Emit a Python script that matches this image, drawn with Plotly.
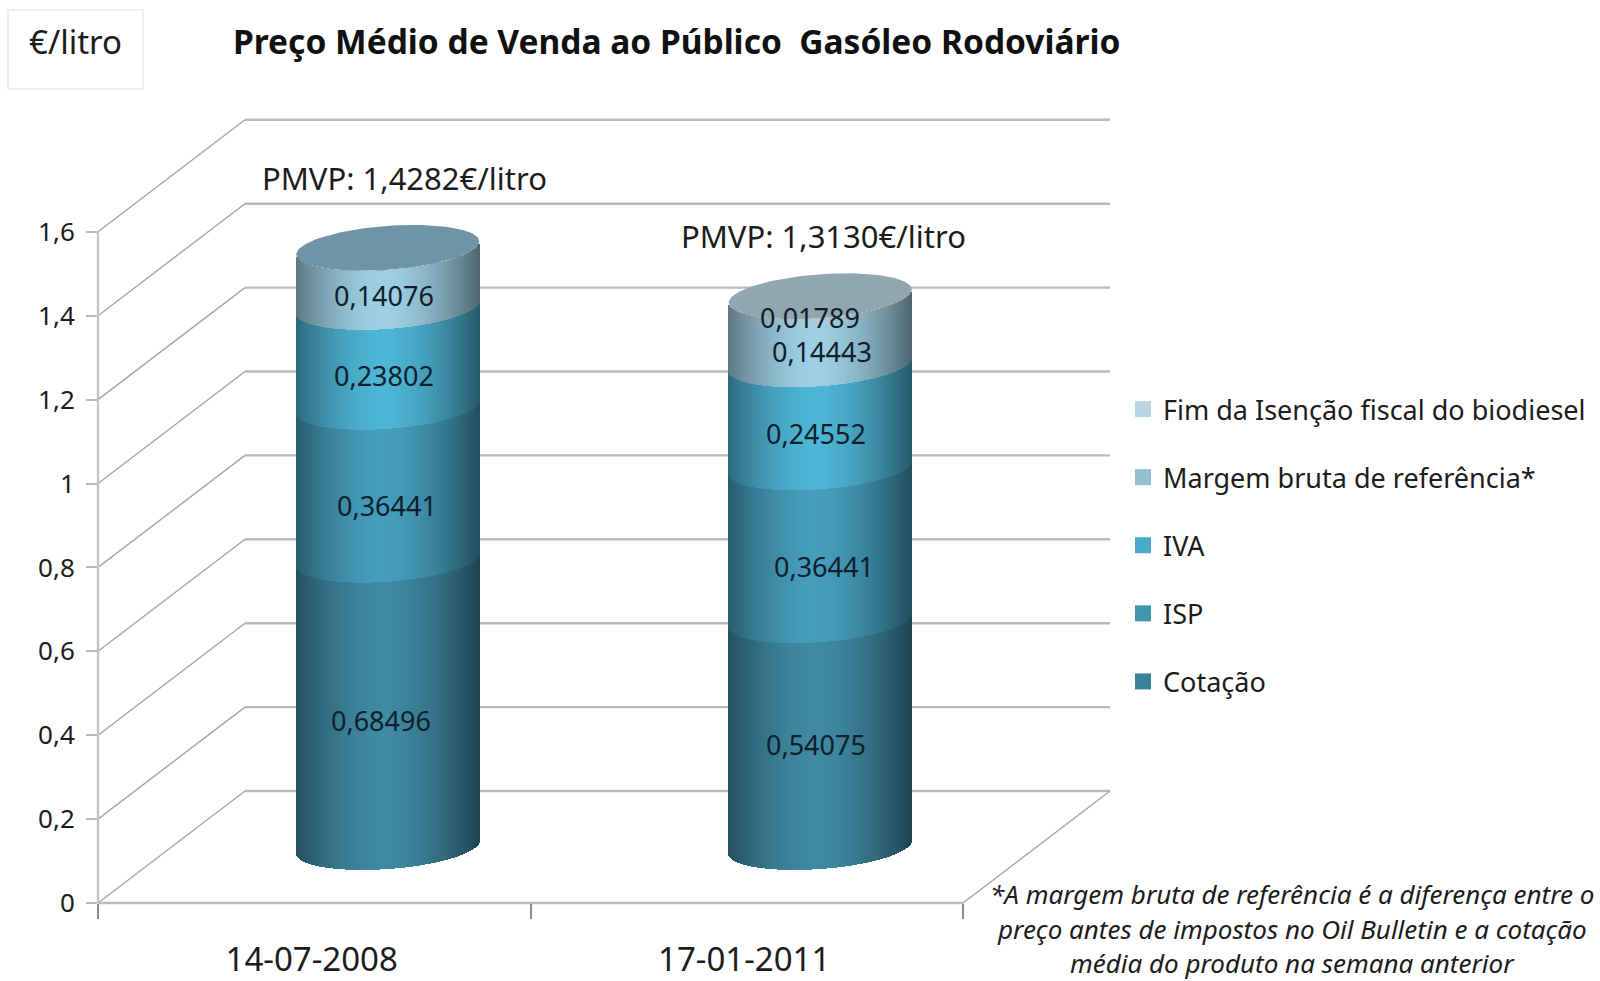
import numpy as np
import plotly.graph_objects as go

# ---- data ----
dates = ["14-07-2008", "17-01-2011"]
series_names = ["Cotação", "ISP", "IVA", "Margem bruta de referência*", "Fim da Isenção fiscal do biodiesel"]
cotacao = [0.68496, 0.54075]
isp = [0.36441, 0.36441]
iva = [0.23802, 0.24552]
margem = [0.14076, 0.14443]
fim = [0.0, 0.01789]
pmvp_text = ["PMVP: 1,4282€/litro", "PMVP: 1,3130€/litro"]
y_ticks = [0, 0.2, 0.4, 0.6, 0.8, 1, 1.2, 1.4, 1.6]
y_ticktext = ["0", "0,2", "0,4", "0,6", "0,8", "1", "1,2", "1,4", "1,6"]
footnote = ["*A margem bruta de referência é a diferença entre o",
            "preço antes de impostos no Oil Bulletin e a cotação",
            "média do produto na semana anterior"]

# ---- styles ----
center_colors = [(64, 138, 163), (70, 158, 188), (78, 182, 214), (158, 208, 228), (170, 205, 220)]
legend_colors = ["#3A8298", "#4195AF", "#4BAAC8", "#93BFD2", "#B9D5E2"]
cap_colors = ["#6E94A5", "#90A6B0"]
GRID = "#BABABA"
FONT = "Noto Sans"
TEXT = "#1c1c1c"

PLOT_L, PLOT_B, W, H = 98, 903, 1600, 981
PX_X = 432.5       # pixels per category
PX_Y = 419.5       # pixels per value unit
X_MAX = (W - PLOT_L) / PX_X
Y_MAX = PLOT_B / PX_Y
DX = 147 / PX_X    # depth of the 3D box
DY = 112 / PX_Y
A_PX, B_PX, TILT_PX = 91.5, 22.0, 6.5

px = lambda v: v / X_MAX
py = lambda v: v / Y_MAX


def line(x0, y0, x1, y1, color=GRID, width=1.6):
    return dict(type="line", xref="paper", yref="paper", layer="below",
                x0=px(x0), y0=py(y0), x1=px(x1), y1=py(y1),
                line=dict(color=color, width=width))


shapes = []
for v in y_ticks:
    shapes.append(line(0, v, DX, v + DY, "#A5A5A5", 1.4))
    shapes.append(line(DX, v + DY, 2 + DX, v + DY, GRID, 2.4))
shapes.append(line(2, 0, 2 + DX, DY, "#A5A5A5", 1.4))
shapes.append(line(0, 0, 0, 1.6, "#C4C4C4", 2.4))
shapes.append(line(0, 0, 2, 0, "#BBBBBB", 2.6))
shapes.append(dict(type="rect", xref="paper", yref="paper", layer="below",
                   x0=(8 - PLOT_L) / (W - PLOT_L), x1=(143 - PLOT_L) / (W - PLOT_L),
                   y0=1 - 89 / PLOT_B, y1=1 - 10 / PLOT_B,
                   line=dict(color="#EFEFEF", width=2)))

fig = go.Figure()

stacks = [cotacao, isp, iva, margem, fim]
slice_px = np.arange(-A_PX + 0.5, A_PX, 1.0)
shade = 1 - 0.50 * (np.abs(slice_px + 5) / 96) ** 1.7
front = B_PX * np.sqrt(np.clip(1 - (slice_px / A_PX) ** 2, 0, 1))
tilt = TILT_PX * slice_px / A_PX

for i in range(len(dates)):
    xc = i + 0.5 + DX / 2
    xs = xc + slice_px / PX_X
    arc = (tilt - front) / PX_Y
    bottom = DY / 2
    for k, vals in enumerate(stacks):
        v = vals[i]
        if v <= 0:
            continue
        cols = ["rgb(%d,%d,%d)" % tuple(int(c * s) for c in center_colors[k]) for s in shade]
        fig.add_trace(go.Bar(x=xs, y=[v] * len(xs), base=bottom + arc, width=1.12 / PX_X,
                             marker=dict(color=cols, line=dict(width=0)),
                             showlegend=False, hoverinfo="skip"))
        bottom += v
    t = np.linspace(0, 2 * np.pi, 121)
    fig.add_trace(go.Scatter(
        x=xc + A_PX * np.cos(t) / PX_X,
        y=bottom + (TILT_PX * np.cos(t) + B_PX * np.sin(t)) / PX_Y,
        mode="lines", fill="toself", fillcolor=cap_colors[i],
        line=dict(width=0, color=cap_colors[i]),
        showlegend=False, hoverinfo="skip"))

# legend entries, top to bottom
for k in range(4, -1, -1):
    fig.add_trace(go.Scatter(x=[None], y=[None], mode="markers", name=series_names[k],
                             legendgroup=series_names[k],
                             marker=dict(symbol="square", size=16, color=legend_colors[k])))

# value labels
label_shift_x = [[-7, -1, -4, -4, 0], [-4, 3.5, -4, 1.4, -10]]
label_shift_y = [[-17, -22, -19, -18, 0], [-11, -23, -18, -17, -18]]
annotations = []
for i in range(len(dates)):
    xc = i + 0.5 + DX / 2
    bottom = DY / 2
    for k, vals in enumerate(stacks):
        v = vals[i]
        if v <= 0:
            continue
        annotations.append(dict(
            x=xc, y=bottom + v / 2, text=f"{v:.5f}".replace(".", ","), showarrow=False,
            xanchor="center", yanchor="middle",
            xshift=label_shift_x[i][k], yshift=label_shift_y[i][k],
            font=dict(family=FONT, size=27, color="#10202a")))
        bottom += v
    annotations.append(dict(
        x=xc, y=bottom, text=pmvp_text[i], showarrow=False, xanchor="center", yanchor="middle",
        xshift=[16.5, 3.5][i], yshift=[70, 60.6][i],
        font=dict(family=FONT, size=31, color=TEXT)))

annotations.append(dict(xref="paper", yref="paper", x=(75 - PLOT_L) / (W - PLOT_L), y=1 - 42 / PLOT_B,
                        xanchor="center", yanchor="middle",
                        text="€/litro", showarrow=False, font=dict(family=FONT, size=33, color=TEXT)))
for n, (s, yc) in enumerate(zip(footnote, [894, 929, 963])):
    annotations.append(dict(xref="paper", yref="paper", x=(1292 - PLOT_L) / (W - PLOT_L), y=1 - yc / PLOT_B,
                            xanchor="center", yanchor="middle",
                            text=f"<i>{s}</i>", showarrow=False,
                            font=dict(family=FONT, size=26, color=TEXT)))

fig.update_layout(
    width=W, height=H, autosize=False,
    margin=dict(l=PLOT_L, r=0, t=0, b=H - PLOT_B, pad=0, autoexpand=False),
    paper_bgcolor="white", plot_bgcolor="white",
    barmode="overlay", bargap=0,
    title=dict(text="<b>Preço Médio de Venda ao Público\u00a0\u00a0Gasóleo Rodoviário</b>",
               x=233 / W, xanchor="left", xref="container", y=1 - 42 / H, yanchor="middle",
               font=dict(family=FONT, size=33.5, color="#111111")),
    shapes=shapes, annotations=annotations,
    xaxis=dict(range=[0, X_MAX], showgrid=False, zeroline=False, showline=False,
               tickmode="array", tickvals=[0.494, 1.494], ticktext=dates, ticks="", ticklabelstandoff=34,
               tickfont=dict(family=FONT, size=33, color=TEXT),
               minor=dict(tickmode="array", tickvals=[0, 1, 2], ticks="outside", ticklen=15,
                          tickcolor="#8A8A8A", tickwidth=1.6, showgrid=False)),
    yaxis=dict(range=[0, Y_MAX], showgrid=False, zeroline=False, showline=False,
               tickmode="array", tickvals=y_ticks, ticktext=y_ticktext, ticks="outside", ticklen=11,
               tickcolor="#BBBBBB", tickwidth=2, ticklabelstandoff=6,
               tickfont=dict(family=FONT, size=26, color=TEXT)),
    legend=dict(x=(1123 - PLOT_L) / (W - PLOT_L), xanchor="left", y=1 - 385 / PLOT_B, yanchor="top",
                tracegroupgap=30, itemwidth=30, bgcolor="rgba(0,0,0,0)", traceorder="grouped",
                font=dict(family=FONT, size=27, color=TEXT)),
)

fig.write_html("out.html", config={"displayModeBar": False}, post_script="document.body.style.margin='0';")
